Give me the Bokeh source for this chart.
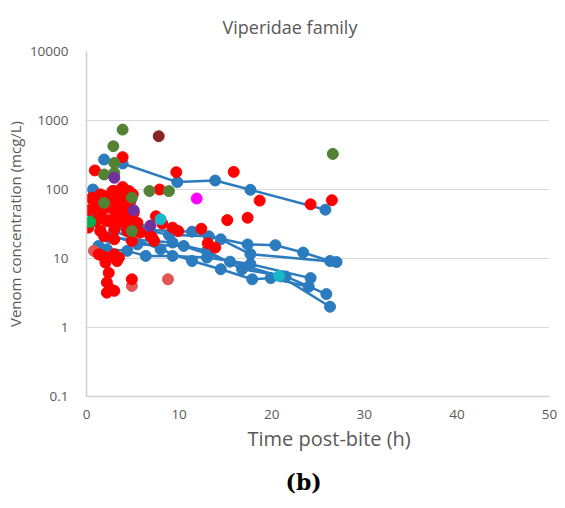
from bokeh.plotting import figure
from bokeh.models import FixedTicker, CustomJSTickFormatter, Title
from bokeh.embed import file_html
from bokeh.resources import INLINE

# ---- data ----
b1_x = [3.9, 9.8, 13.9, 17.7, 25.8]
b1_y = [238, 128, 135, 99, 51]
b2_x = [1.0, 4.0, 8.9, 13.2, 17.4, 20.4, 23.4, 26.3]
b2_y = [48, 30, 22, 21, 16, 15.6, 12.2, 9.2]
b3_x = [2.0, 6.0, 11.4, 14.5, 17.7, 27.0]
b3_y = [40, 26, 24.5, 19, 11.6, 8.9]
b4_x = [1.3, 2.2, 4.4, 6.4, 9.3, 13.0, 17.7, 24.2]
b4_y = [15.2, 13.6, 12.9, 10.9, 10.9, 10.3, 8.3, 5.2]
b5_x = [3.0, 8.0, 11.4, 14.5, 17.9, 19.9, 24.0]
b5_y = [25, 13.6, 9.2, 7.0, 5.0, 5.2, 3.9]
b6_x = [2.5, 9.3, 13.0, 16.8, 21.5, 25.9]
b6_y = [20, 17, 12.9, 7.0, 5.5, 3.05]
b7_x = [1.5, 5.5, 10.5, 15.5, 21.0, 26.3]
b7_y = [25, 16, 15.2, 9.0, 5.5, 2.0]
blue_pts_x = [1.9, 0.7, 0.4]
blue_pts_y = [272, 100, 49]

red_x = [3.9, 0.9, 9.7, 15.9, 7.9, 1.5, 3.0, 3.9, 4.6, 0.6, 2.2, 3.1, 4.4, 1.2, 3.9,
         3.0, 4.8, 1.5, 3.3, 4.4, 1.0, 2.2, 3.5, 4.8, 7.5, 9.3, 0.6, 2.8, 4.75, 0.8,
         1.9, 3.7, 5.1, 2.6, 4.0, 5.5, 1.5, 3.0, 4.4, 5.8, 6.9, 3.0, 4.9, 7.3, 1.9,
         1.3, 1.7, 2.2, 3.0, 3.5, 2.05, 3.3, 2.4, 4.9, 2.2, 2.6, 3.0, 2.2, 18.7, 24.2,
         26.5, 15.2, 17.4, 12.4, 9.9, 8.2, 7.1, 13.1, 13.9, 0.2, 0.2, 1.0, 2.0, 3.5,
         4.2, 5.0]
red_y = [294, 189, 178, 180, 100, 85, 95, 106, 95, 72, 68, 68, 72, 58, 54,
         51, 51, 44, 44, 41, 35, 35, 35, 33, 41, 28, 76, 95, 68, 51,
         54, 49, 46, 35, 33, 33, 25, 26.5, 25, 23.7, 21.2, 19, 18, 18, 21,
         11.5, 10.9, 10.3, 11.5, 10.3, 8.7, 9.2, 6.2, 5.0, 4.5, 3.6, 3.4, 3.2, 69, 61,
         70, 36, 39, 27, 25, 32, 20, 16.6, 14.4, 50, 28, 70, 80, 80,
         60, 85]
faded_x = [0.8, 4.9, 8.8, 3.9, 2.6, 1.5]
faded_y = [12.9, 4.0, 5.0, 110, 45, 30]
olive_x = [3.9, 2.9, 3.0, 1.9, 3.0, 6.8, 8.9, 1.9, 4.9, 4.9, 26.6]
olive_y = [738, 424, 243, 165, 174, 95, 95, 64, 76, 25, 328]
maroon_x = [7.8]
maroon_y = [592]
purple_x = [3.0, 6.9, 5.1]
purple_y = [148, 30, 50]
green_x = [0.4]
green_y = [34]
cyan_x = [8.0, 20.8]
cyan_y = [37, 5.6]
magenta_x = [11.9]
magenta_y = [74]

y_ticks = [0.1, 1, 10, 100, 1000, 10000]
x_ticks = [0, 10, 20, 30, 40, 50]

BLUE = "#2B7BBF"
GREY = "#595959"
FONT = "Open Sans"

p = figure(width=565, height=508, x_range=(0, 50), y_range=(0.1, 10000),
           y_axis_type="log", output_backend="svg", toolbar_location=None,
           min_border_left=86, min_border_right=16, min_border_top=50,
           min_border_bottom=112)

p.title.text = "Viperidae family"
p.title.align = "left"
p.title.offset = 136
p.title.text_font = FONT
p.title.text_font_size = "18px"
p.title.text_font_style = "normal"
p.title.text_color = GREY
p.title.standoff = 25

p.outline_line_color = None
p.background_fill_color = "white"
p.border_fill_color = "white"

p.xgrid.grid_line_color = None
p.ygrid.grid_line_color = "#D9D9D9"
p.ygrid.grid_line_width = 1
p.ygrid.ticker = FixedTicker(ticks=y_ticks)

p.yaxis.ticker = FixedTicker(ticks=y_ticks)
p.yaxis.formatter = CustomJSTickFormatter(code="return tick < 1 ? tick.toFixed(1) : tick.toFixed(0);")
p.xaxis.ticker = FixedTicker(ticks=x_ticks)

for ax in (p.xaxis, p.yaxis):
    ax.major_tick_line_color = None
    ax.minor_tick_line_color = None
    ax.axis_line_color = "#D0D0D0"
    ax.axis_line_width = 1.5
    ax.major_label_text_color = GREY
    ax.major_label_text_font = FONT
    ax.major_label_text_font_size = "13.5px"
    ax.axis_label_text_color = GREY
    ax.axis_label_text_font = FONT
    ax.axis_label_text_font_style = "normal"

p.yaxis.axis_label = "Venom concentration (mcg/L)"
p.yaxis.axis_label_text_font_size = "15px"
p.yaxis.major_label_standoff = 12
p.yaxis.axis_label_standoff = 2
p.xaxis.major_label_standoff = 7

xlab = Title(text="Time post-bite (h)", align="left", offset=161, text_font=FONT,
             text_font_size="20px", text_font_style="normal", text_color=GREY,
             standoff=2)
p.add_layout(xlab, "below")
sub = Title(text="(b)", align="left", offset=199, text_font="DejaVu Serif",
            text_font_size="22px", text_font_style="bold", text_color="black",
            standoff=28)
p.add_layout(sub, "below")

R = 5.5
for xs, ys in [(b1_x, b1_y), (b2_x, b2_y), (b3_x, b3_y), (b4_x, b4_y),
               (b5_x, b5_y), (b6_x, b6_y), (b7_x, b7_y)]:
    p.line(xs, ys, line_color=BLUE, line_width=2.5)
    p.scatter(xs, ys, size=2 * R, fill_color=BLUE, line_color=BLUE)
p.scatter(blue_pts_x, blue_pts_y, size=2 * R, fill_color=BLUE, line_color=BLUE)

p.scatter(faded_x, faded_y, size=2 * R, fill_color="#E05555", line_color="#E05555")
p.scatter(red_x, red_y, size=2 * R, fill_color="#FF0000", line_color="#FF0000")
p.scatter(olive_x, olive_y, size=2 * R, fill_color="#548235", line_color="#548235")
p.scatter(maroon_x, maroon_y, size=2 * R, fill_color="#8B2525", line_color="#8B2525")
p.scatter(purple_x, purple_y, size=2 * R, fill_color="#7030A0", line_color="#7030A0")
p.scatter(green_x, green_y, size=2 * R, fill_color="#00B050", line_color="#00B050")
p.scatter(cyan_x, cyan_y, size=2 * R, fill_color="#17B8C8", line_color="#17B8C8")
p.scatter(magenta_x, magenta_y, size=2 * R, fill_color="#FF00FF", line_color="#FF00FF")

open("out.html", "w").write(file_html(p, INLINE))
